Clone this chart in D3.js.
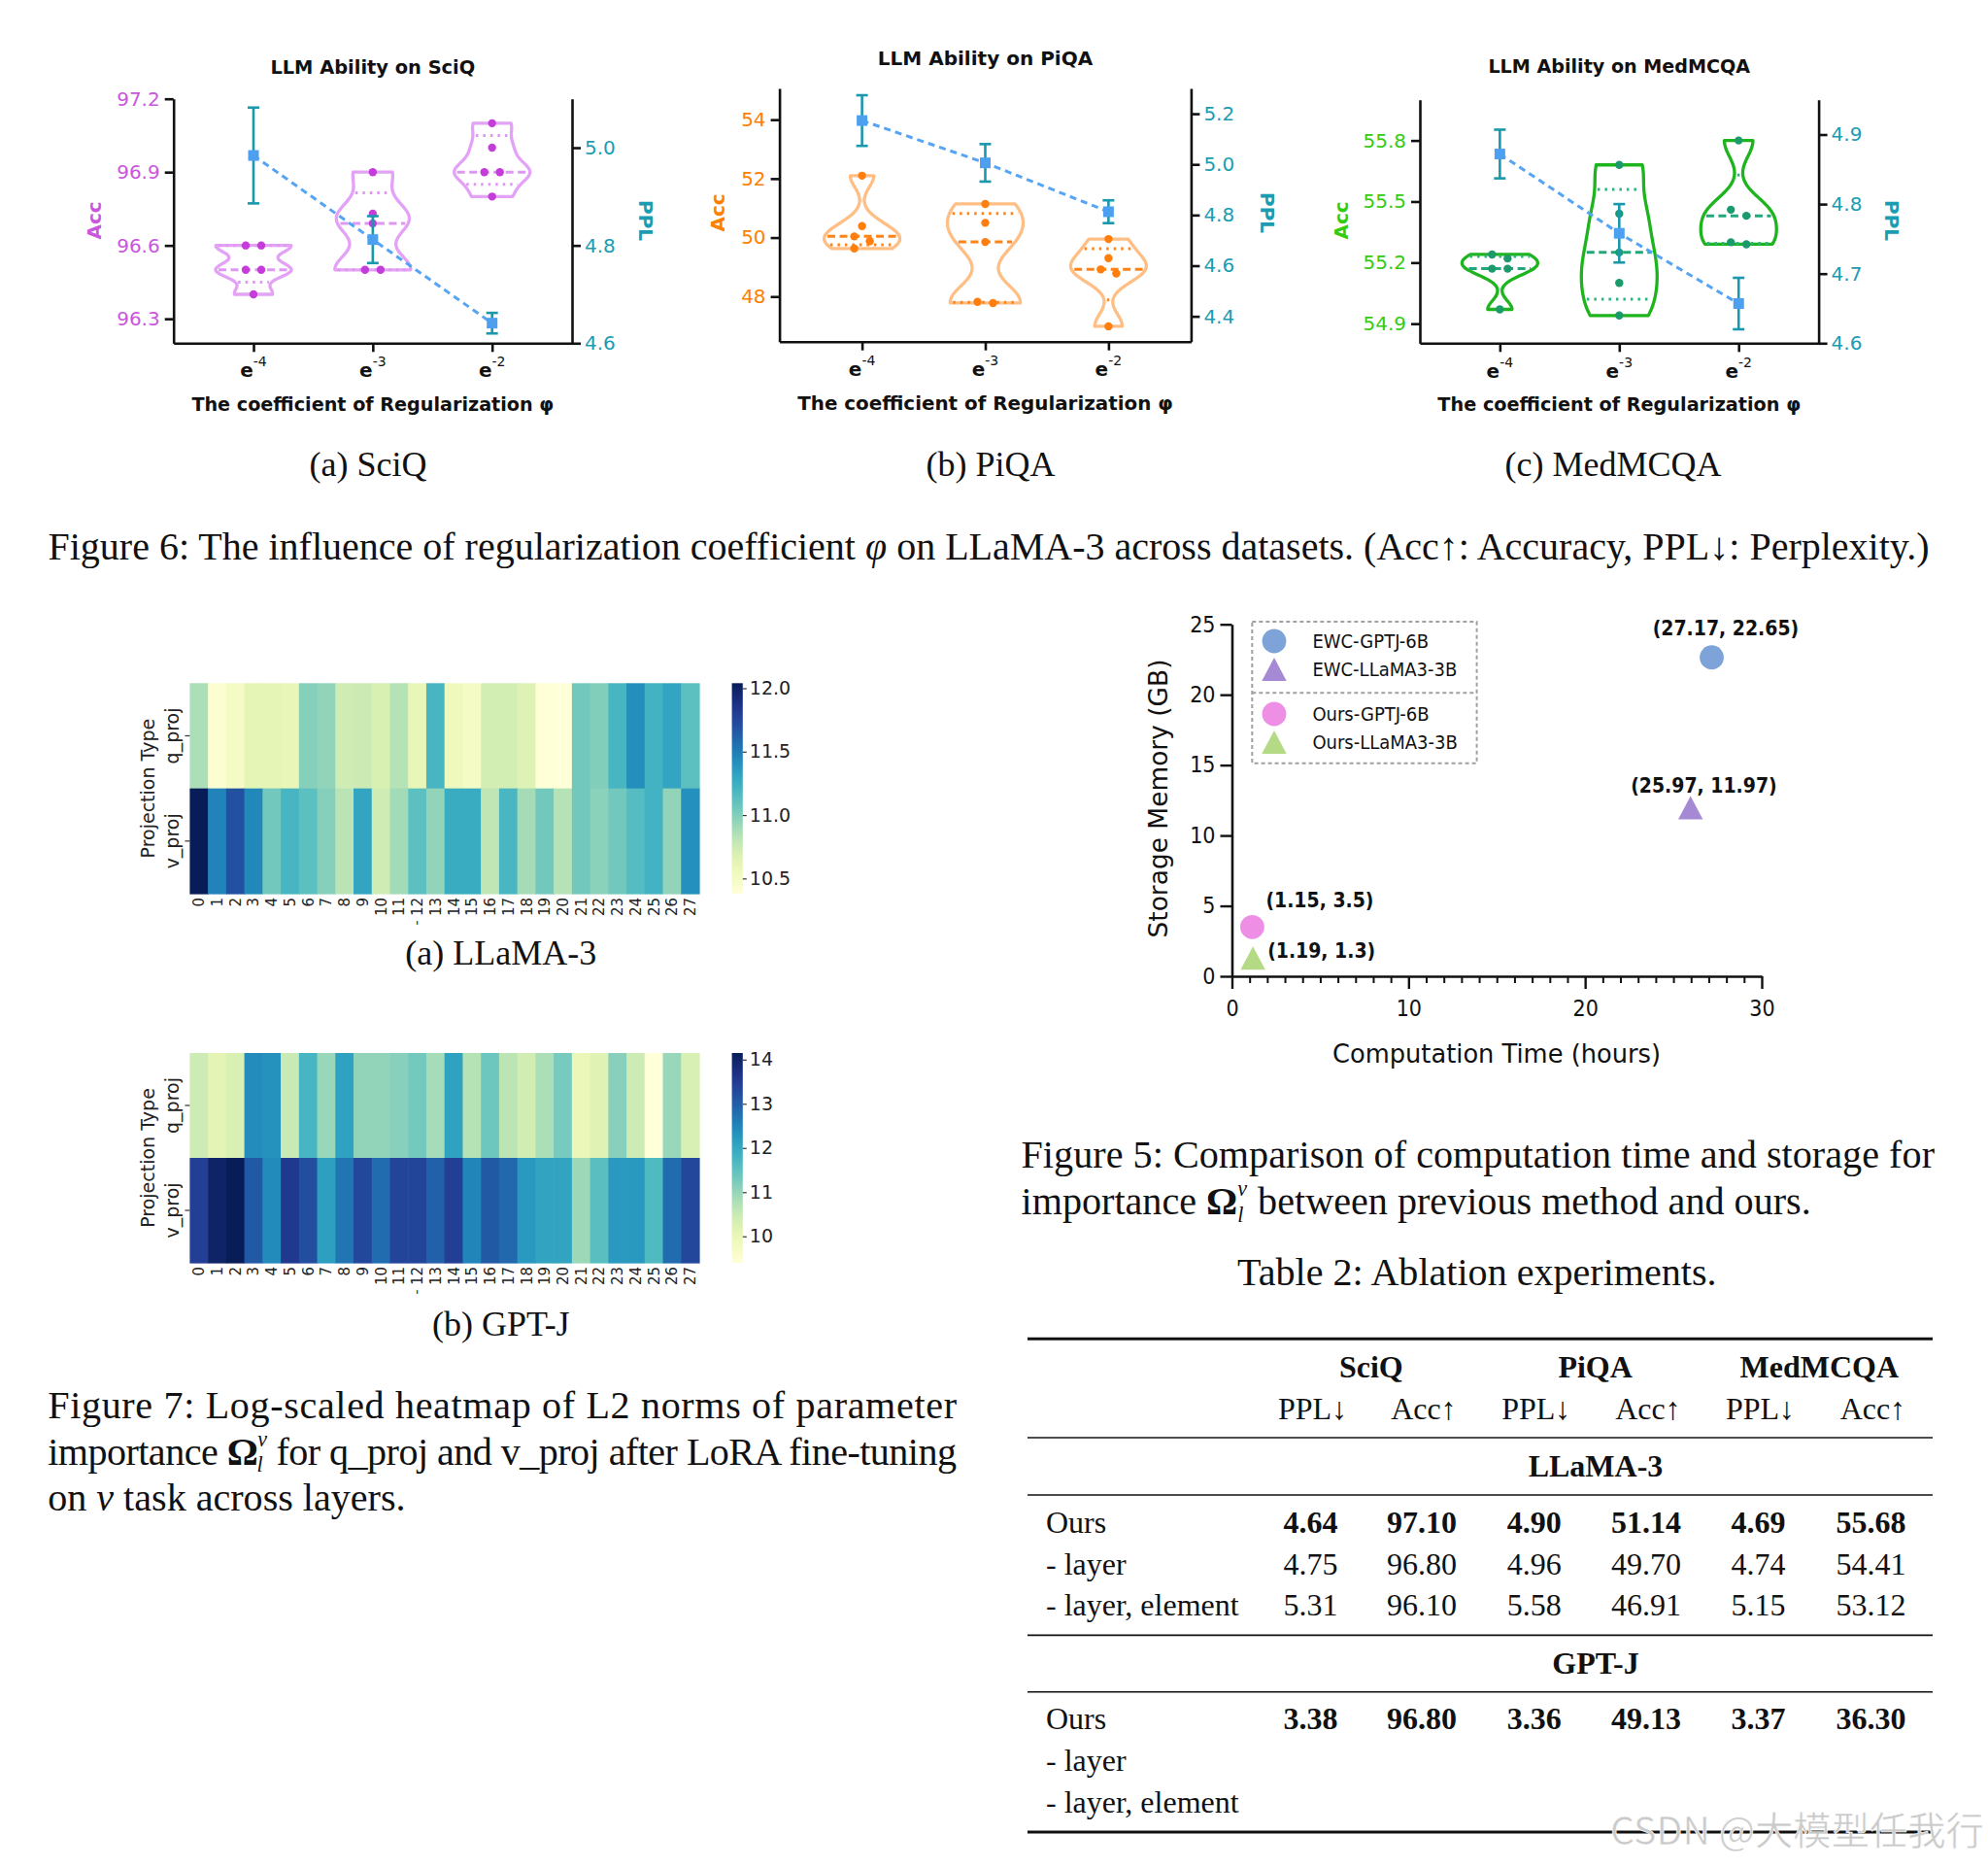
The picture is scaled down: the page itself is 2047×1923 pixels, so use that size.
<!DOCTYPE html>
<html>
<head>
<meta charset="utf-8">
<script src="https://cdn.jsdelivr.net/npm/d3@7"></script>
<style>
html,body{margin:0;padding:0;background:#fff;}
svg{display:block;}
text{white-space:pre;}
</style>
</head>
<body>
<svg id="page" width="2047" height="1923" xmlns="http://www.w3.org/2000/svg"></svg>
<script>
// ======================= DATA =======================
const phiExp = [-4, -3, -2];

const sciqAcc = [
  [96.4, 96.5, 96.5, 96.6, 96.6],
  [96.5, 96.5, 96.69, 96.73, 96.9],
  [96.8, 96.9, 96.9, 97.0, 97.1]
];
const sciqPPL = [4.984, 4.812, 4.641];
const sciqPPLErr = [0.098, 0.048, 0.021];
const sciqAccTicks = [96.3, 96.6, 96.9, 97.2];
const sciqPPLTicks = [4.6, 4.8, 5.0];

const piqaAcc = [
  [49.63, 49.88, 50.04, 50.39, 52.1],
  [47.78, 47.82, 49.85, 50.5, 51.14],
  [46.99, 48.78, 48.92, 49.30, 49.95]
];
const piqaPPL = [5.173, 5.006, 4.813];
const piqaPPLErr = [0.10, 0.074, 0.045];
const piqaAccTicks = [48, 50, 52, 54];
const piqaPPLTicks = [4.4, 4.6, 4.8, 5.0, 5.2];

const medAcc = [
  [54.97, 55.17, 55.17, 55.22, 55.24],
  [54.94, 55.10, 55.25, 55.44, 55.68],
  [55.29, 55.30, 55.43, 55.46, 55.80]
];
const medPPL = [4.872, 4.758, 4.657];
const medPPLErr = [0.035, 0.042, 0.037];
const medAccTicks = [54.9, 55.2, 55.5, 55.8];
const medPPLTicks = [4.6, 4.7, 4.8, 4.9];

// heatmaps
const layers = [0,1,2,3,4,5,6,7,8,9,10,11,12,13,14,15,16,17,18,19,20,21,22,23,24,25,26,27];
const projTypes = ["q_proj", "v_proj"];
const llamaQ = [10.87,10.42,10.49,10.62,10.62,10.60,10.99,10.95,10.74,10.75,10.69,10.84,10.60,11.20,
                10.54,10.49,10.72,10.72,10.67,10.39,10.38,11.05,11.00,11.20,11.42,11.22,11.30,11.12];
const llamaV = [12.04,11.47,11.69,11.45,11.05,11.20,11.12,10.99,10.82,11.30,10.74,10.90,11.12,10.95,
                11.26,11.26,10.80,11.19,10.89,11.05,10.84,11.05,10.97,11.05,11.15,11.22,10.95,11.41];
const llamaTicks = [10.5, 11.0, 11.5, 12.0];
const gptjQ = [10.45,10.12,10.30,12.40,12.33,10.50,11.75,10.98,12.10,11.03,11.03,11.12,11.30,10.85,
               12.10,10.70,11.35,10.65,10.40,10.80,11.27,9.97,10.17,11.12,10.45,9.40,10.98,10.30];
const gptjV = [13.43,14.00,14.15,13.05,12.42,13.53,13.20,12.13,12.70,13.30,12.80,13.35,13.35,12.95,
               13.43,12.50,13.05,12.85,12.23,12.05,12.05,10.93,11.55,12.23,12.23,11.65,12.80,13.30];
const gptjTicks = [10, 11, 12, 13, 14];

// scatter (Figure 5)
const scatterNames = ["EWC-GPTJ-6B", "EWC-LLaMA3-3B", "Ours-GPTJ-6B", "Ours-LLaMA3-3B"];
const scatterTime = [27.17, 25.97, 1.15, 1.19];
const scatterMem = [22.65, 11.97, 3.5, 1.3];
const scatterShape = ["circle", "triangle", "circle", "triangle"];
const scatterXTicks = [0, 10, 20, 30];
const scatterYTicks = [0, 5, 10, 15, 20, 25];

// table
const tableDatasets = ["SciQ", "PiQA", "MedMCQA"];
const tableMetrics = ["PPL↓", "Acc↑"];
const tableRowNames = ["Ours", "- layer", "- layer, element"];
const llamaTable = [
  [4.64, 97.10, 4.90, 51.14, 4.69, 55.68],
  [4.75, 96.80, 4.96, 49.70, 4.74, 54.41],
  [5.31, 96.10, 5.58, 46.91, 5.15, 53.12]
];
const gptjTable = [
  [3.38, 96.80, 3.36, 49.13, 3.37, 36.30],
  [],
  []
];

// ======================= DRAWING =======================
const svg = d3.select('#page');
svg.append('rect').attr('width', 2047).attr('height', 1923).attr('fill', '#fff');
const SANS = "'DejaVu Sans', Verdana, sans-serif";
const COND = "'DejaVu Sans Condensed', 'DejaVu Sans', sans-serif";
const SERIF = "'Liberation Serif', 'Times New Roman', serif";

function fit(sel, w) {
  const L = sel.node().getComputedTextLength();
  const fs = parseFloat(sel.attr('font-size'));
  sel.attr('font-size', (fs * w / L).toFixed(2));
  return sel;
}

function violinPanel(o) {
  const g = svg.append('g');
  const x = d3.scalePoint().domain(phiExp).range([o.left, o.right]).padding(0.67);
  const y = d3.scaleLinear().domain(o.accDomain).range([o.bottom, o.top]);
  const y2 = d3.scaleLinear().domain(o.pplDomain).range([o.bottom, o.top]);
  const halfW = 39, dotR = 4.2, dotDX = 8;

  o.acc.forEach((vals, i) => {
    const cx = x(phiExp[i]);
    const s = vals.slice().sort(d3.ascending);
    const bw = 0.4 * d3.deviation(s);
    const kde = v => d3.sum(s, p => Math.exp(-0.5 * ((v - p) / bw) ** 2));
    const lo = s[0], hi = s[s.length - 1];
    const grid = d3.range(81).map(k => lo + (hi - lo) * k / 80);
    const dmax = d3.max(grid, kde);
    const w = v => halfW * kde(v) / dmax;
    const area = d3.area().curve(d3.curveBasis)
      .y(v => y(v)).x0(v => cx - w(v)).x1(v => cx + w(v));
    g.append('path').attr('d', area(grid)).attr('fill', 'none')
      .attr('stroke', o.violin).attr('stroke-width', 3.3).attr('stroke-linejoin', 'round');

    const n = s.length;
    const med = d3.median(s);
    const q1 = d3.median(s.slice(0, Math.floor(n / 2)));
    const q3 = d3.median(s.slice(Math.ceil(n / 2)));
    [[q1, o.quart, '2.5,5'], [q3, o.quart, '2.5,5'], [med, o.med, '8,4.5']].forEach(([v, c, da]) => {
      const hw = Math.max(0, w(v) - 3);
      g.append('line').attr('x1', cx - hw).attr('x2', cx + hw).attr('y1', y(v)).attr('y2', y(v))
        .attr('stroke', c).attr('stroke-width', 3).attr('stroke-dasharray', da);
    });

    // dots, spread horizontally when overlapping
    const desc = s.slice().sort(d3.descending);
    const groups = [];
    let cur = [];
    desc.forEach(v => {
      if (cur.length && Math.abs(y(v) - y(cur[cur.length - 1])) >= 9) { groups.push(cur); cur = []; }
      cur.push(v);
    });
    groups.push(cur);
    groups.forEach(gr => gr.forEach((v, k) => {
      const dx = gr.length === 1 ? 0 : (k % 2 === 0 ? -dotDX : dotDX);
      g.append('circle').attr('cx', cx + dx).attr('cy', y(v)).attr('r', dotR).attr('fill', o.dot);
    }));
  });

  // PPL series
  const line = d3.line().x((d, i) => x(phiExp[i])).y(d => y2(d));
  g.append('path').attr('d', line(o.ppl)).attr('fill', 'none').attr('stroke', '#56A4F3')
    .attr('stroke-width', 3).attr('stroke-dasharray', '7,5');
  o.ppl.forEach((m, i) => {
    const cx = x(phiExp[i]), e = o.pplErr[i];
    const eg = g.append('g').attr('stroke', '#1A98AC').attr('stroke-width', 2.6);
    eg.append('line').attr('x1', cx).attr('x2', cx).attr('y1', y2(m - e)).attr('y2', y2(m + e));
    eg.append('line').attr('x1', cx - 6).attr('x2', cx + 6).attr('y1', y2(m - e)).attr('y2', y2(m - e));
    eg.append('line').attr('x1', cx - 6).attr('x2', cx + 6).attr('y1', y2(m + e)).attr('y2', y2(m + e));
    g.append('rect').attr('x', cx - 5.5).attr('y', y2(m) - 5.5).attr('width', 11).attr('height', 11)
      .attr('fill', '#4DA0F0');
  });

  // axes
  const styleAxis = (sel, color) => {
    sel.attr('font-family', SANS).attr('font-size', 20);
    sel.select('.domain').attr('stroke', '#111').attr('stroke-width', 2.6);
    sel.selectAll('.tick line').attr('stroke', '#111').attr('stroke-width', 2.6);
    sel.selectAll('.tick text').attr('fill', color).attr('font-family', SANS).attr('font-size', 20);
  };
  const gl = g.append('g').attr('transform', `translate(${o.left},0)`)
    .call(d3.axisLeft(y).tickValues(o.accTicks).tickFormat(d3.format(o.accFmt))
      .tickSize(9).tickSizeOuter(0).tickPadding(5));
  styleAxis(gl, o.accColor);
  const gr = g.append('g').attr('transform', `translate(${o.right},0)`)
    .call(d3.axisRight(y2).tickValues(o.pplTicks).tickFormat(d3.format('.1f'))
      .tickSize(9).tickSizeOuter(0).tickPadding(4));
  styleAxis(gr, '#1A9DB2');
  const gb = g.append('g').attr('transform', `translate(0,${o.bottom})`)
    .call(d3.axisBottom(x).tickSize(9).tickSizeOuter(0).tickFormat(''));
  styleAxis(gb, '#000');

  phiExp.forEach(p => {
    const t = g.append('text').attr('x', x(p)).attr('y', o.eBase).attr('text-anchor', 'middle')
      .attr('font-family', SANS).attr('font-weight', 'bold').attr('font-size', 20).attr('fill', '#111');
    t.append('tspan').text('e');
    t.append('tspan').text(String(p)).attr('font-size', 14).attr('font-weight', 'normal').attr('dy', -11);
  });

  fit(g.append('text').attr('x', x(-3)).attr('y', o.titleY).attr('text-anchor', 'middle')
    .attr('font-family', SANS).attr('font-weight', 'bold').attr('font-size', 18).attr('fill', '#111')
    .text(o.title), o.titleW);
  fit(g.append('text').attr('x', x(-3)).attr('y', o.xtitleY).attr('text-anchor', 'middle')
    .attr('font-family', SANS).attr('font-weight', 'bold').attr('font-size', 18).attr('fill', '#111')
    .text('The coefficient of Regularization φ'), o.xtitleW);
  g.append('text').attr('transform', `translate(${o.accLabelX},${o.labelY}) rotate(-90)`)
    .attr('text-anchor', 'middle').attr('fill', o.accColor).attr('font-family', SANS)
    .attr('font-weight', 'bold').attr('font-size', 20).text('Acc');
  g.append('text').attr('transform', `translate(${o.pplLabelX},${o.labelY}) rotate(90)`)
    .attr('text-anchor', 'middle').attr('fill', '#1A9DB2').attr('font-family', SANS)
    .attr('font-weight', 'bold').attr('font-size', 20).text('PPL');
  g.append('text').attr('x', o.subX).attr('y', 490).attr('text-anchor', 'middle')
    .attr('font-family', SERIF).attr('font-size', 36).attr('fill', '#111').text(o.sub);
}

violinPanel({
  acc: sciqAcc, ppl: sciqPPL, pplErr: sciqPPLErr, accTicks: sciqAccTicks, pplTicks: sciqPPLTicks,
  accFmt: '.1f', left: 178.7, right: 589, top: 101.7, bottom: 353.3,
  accDomain: [96.2, 97.2], pplDomain: [4.6, 5.1],
  title: 'LLM Ability on SciQ', titleY: 76, titleW: 211, xtitleY: 422.5, xtitleW: 373, eBase: 388,
  accLabelX: 104, pplLabelX: 658, labelY: 227, sub: '(a) SciQ', subX: 379,
  accColor: '#C957DD', violin: '#E3A2F5', dot: '#C53CDB', med: '#DE98F2', quart: '#DE98F2'
});
violinPanel({
  acc: piqaAcc, ppl: piqaPPL, pplErr: piqaPPLErr, accTicks: piqaAccTicks, pplTicks: piqaPPLTicks,
  accFmt: 'd', left: 802.6, right: 1226.4, top: 91, bottom: 351.7,
  accDomain: [46.47, 55.06], pplDomain: [4.3, 5.3],
  title: 'LLM Ability on PiQA', titleY: 66.7, titleW: 221.5, xtitleY: 421.7, xtitleW: 387, eBase: 387,
  accLabelX: 746, pplLabelX: 1298, labelY: 219, sub: '(b) PiQA', subX: 1020,
  accColor: '#FF8000', violin: '#FFBE84', dot: '#FF7F0E', med: '#FF8418', quart: '#FF8418'
});
violinPanel({
  acc: medAcc, ppl: medPPL, pplErr: medPPLErr, accTicks: medAccTicks, pplTicks: medPPLTicks,
  accFmt: '.1f', left: 1462, right: 1872.6, top: 102.7, bottom: 353.3,
  accDomain: [54.804, 56.0], pplDomain: [4.6, 4.95],
  title: 'LLM Ability on MedMCQA', titleY: 75, titleW: 270, xtitleY: 422.7, xtitleW: 374, eBase: 389,
  accLabelX: 1388, pplLabelX: 1941, labelY: 227, sub: '(c) MedMCQA', subX: 1661,
  accColor: '#33CC11', violin: '#1EB41E', dot: '#1B9B6B', med: '#22A67C', quart: '#2DB580'
});

// ---------- heatmaps ----------
function heatmap(o) {
  const g = svg.append('g');
  const x = d3.scaleBand().domain(layers).range([o.left, o.right]);
  const y = d3.scaleBand().domain(projTypes).range([o.top, o.bottom]);
  const color = d3.scaleSequential(d3.interpolateYlGnBu).domain([d3.min(o.q.concat(o.v)), d3.max(o.q.concat(o.v))]);
  [o.q, o.v].forEach((row, r) => {
    row.forEach((val, c) => {
      g.append('rect').attr('x', x(layers[c])).attr('y', y(projTypes[r]))
        .attr('width', x.bandwidth() + 0.6).attr('height', y.bandwidth() + 0.6)
        .attr('fill', color(val));
    });
  });
  // x labels
  layers.forEach(l => {
    g.append('text').attr('transform', `translate(${x(l) + x.bandwidth() / 2 + 5.5},${o.bottom + 4}) rotate(-90)`)
      .attr('text-anchor', 'end').attr('font-family', SANS).attr('font-size', 15).attr('fill', '#222').text(l);
  });
  g.append('text').attr('transform', `translate(${x(12) + x.bandwidth() / 2 + 4},${o.bottom + 30}) rotate(-90)`)
    .attr('text-anchor', 'middle').attr('font-family', SANS).attr('font-size', 14).attr('fill', '#222').text('-');
  // y labels
  projTypes.forEach(p => {
    const cy = y(p) + y.bandwidth() / 2;
    g.append('line').attr('x1', o.left - 5).attr('x2', o.left).attr('y1', cy).attr('y2', cy)
      .attr('stroke', '#333').attr('stroke-width', 1.2);
    g.append('text').attr('transform', `translate(183.5,${cy}) rotate(-90)`).attr('text-anchor', 'middle')
      .attr('font-family', SANS).attr('font-size', 19).attr('fill', '#222').text(p);
  });
  g.append('text').attr('transform', `translate(158.5,${(o.top + o.bottom) / 2}) rotate(-90)`)
    .attr('text-anchor', 'middle').attr('font-family', SANS).attr('font-size', 19).attr('fill', '#222')
    .text('Projection Type');
  // colorbar
  const gid = 'grad' + o.id;
  const grad = svg.append('defs').append('linearGradient').attr('id', gid)
    .attr('x1', 0).attr('y1', 1).attr('x2', 0).attr('y2', 0);
  d3.range(0, 1.0001, 0.05).forEach(t => {
    grad.append('stop').attr('offset', t).attr('stop-color', d3.interpolateYlGnBu(t));
  });
  const cbx = 753.6, cbw = 11.2;
  g.append('rect').attr('x', cbx).attr('y', o.top).attr('width', cbw).attr('height', o.bottom - o.top)
    .attr('fill', `url(#${gid})`);
  const cy = d3.scaleLinear().domain(color.domain()).range([o.bottom, o.top]);
  const ca = g.append('g').attr('transform', `translate(${cbx + cbw},0)`)
    .call(d3.axisRight(cy).tickValues(o.ticks).tickFormat(d3.format(o.fmt)).tickSize(4).tickPadding(3));
  ca.select('.domain').remove();
  ca.selectAll('.tick line').attr('stroke', '#333').attr('stroke-width', 1.2);
  ca.selectAll('.tick text').attr('font-family', SANS).attr('font-size', 19).attr('fill', '#222');
  g.append('text').attr('x', 515.8).attr('y', o.subY).attr('text-anchor', 'middle')
    .attr('font-family', SERIF).attr('font-size', 36).attr('fill', '#111').text(o.sub);
}
heatmap({ id: 'a', q: llamaQ, v: llamaV, left: 195.4, right: 720, top: 703.3, bottom: 920,
  ticks: llamaTicks, fmt: '.1f', sub: '(a) LLaMA-3', subY: 993 });
heatmap({ id: 'b', q: gptjQ, v: gptjV, left: 195.4, right: 720, top: 1084, bottom: 1300,
  ticks: gptjTicks, fmt: 'd', sub: '(b) GPT-J', subY: 1375 });

// ---------- scatter ----------
(function () {
  const g = svg.append('g');
  const xs = d3.scaleLinear().domain([0, 30]).range([1268.5, 1814]);
  const ys = d3.scaleLinear().domain([0, 25]).range([1005, 642.7]);
  const colors = ['#7DA3D8', '#A589D5', '#EE8FE5', '#B5DA86'];
  const triPath = 'M0,-12L12.7,12L-12.7,12Z';
  const marker = (sel, shape, color) => {
    if (shape === 'circle') sel.append('circle').attr('r', 12.4).attr('fill', color);
    else sel.append('path').attr('d', triPath).attr('fill', color);
  };
  const minor = g.append('g').attr('transform', 'translate(0,1005)')
    .call(d3.axisBottom(xs).tickValues(d3.range(1, 30).filter(v => v % 10)).tickSize(7).tickFormat('').tickSizeOuter(0));
  minor.select('.domain').remove();
  minor.selectAll('.tick line').attr('stroke', '#111').attr('stroke-width', 2);
  const ax = g.append('g').attr('transform', 'translate(0,1005)')
    .call(d3.axisBottom(xs).tickValues(scatterXTicks).tickSize(13).tickSizeOuter(0).tickPadding(6));
  const ay = g.append('g').attr('transform', 'translate(1268.5,0)')
    .call(d3.axisLeft(ys).tickValues(scatterYTicks).tickSize(12).tickSizeOuter(0).tickPadding(5));
  [ax, ay].forEach(a => {
    a.select('.domain').attr('stroke', '#111').attr('stroke-width', 2.6);
    a.selectAll('.tick line').attr('stroke', '#111').attr('stroke-width', 2.4);
    a.selectAll('.tick text').attr('font-family', COND).attr('font-size', 23).attr('fill', '#111');
  });
  ax.selectAll('.tick text').attr('dy', '0.95em');

  // points and labels
  const labelOff = [[14.4, -23, 'middle'], [13.7, -16, 'middle'], [14, -20, 'start'], [15, 0, 'start']];
  scatterNames.forEach((nm, i) => {
    const px = xs(scatterTime[i]), py = ys(scatterMem[i]);
    marker(g.append('g').attr('transform', `translate(${px},${py})`), scatterShape[i], colors[i]);
    const [dx, dy, anc] = labelOff[i];
    g.append('text').attr('x', px + dx).attr('y', py + dy).attr('text-anchor', anc)
      .attr('font-family', COND).attr('font-weight', 'bold').attr('font-size', 21).attr('fill', '#111')
      .text(`(${scatterTime[i]}, ${scatterMem[i]})`);
  });

  // legend
  const lg = g.append('g');
  lg.append('rect').attr('x', 1289.3).attr('y', 640).attr('width', 231.3).attr('height', 145.7)
    .attr('fill', 'none').attr('stroke', '#A0A0A0').attr('stroke-width', 2).attr('stroke-dasharray', '4,3');
  lg.append('line').attr('x1', 1289.3).attr('x2', 1520.6).attr('y1', 713.3).attr('y2', 713.3)
    .attr('stroke', '#A0A0A0').attr('stroke-width', 2).attr('stroke-dasharray', '4,3');
  const ly = [660, 689, 735, 764];
  scatterNames.forEach((nm, i) => {
    marker(lg.append('g').attr('transform', `translate(1312,${ly[i]})`), scatterShape[i], colors[i]);
    lg.append('text').attr('x', 1351.4).attr('y', ly[i] + 7).attr('font-family', COND)
      .attr('font-size', 20).attr('fill', '#111').text(nm);
  });

  fit(g.append('text').attr('x', 1541).attr('y', 1094).attr('text-anchor', 'middle')
    .attr('font-family', SANS).attr('font-size', 24).attr('fill', '#111').text('Computation Time (hours)'), 338);
  fit(g.append('text').attr('transform', 'translate(1202,822) rotate(-90)').attr('text-anchor', 'middle')
    .attr('font-family', SANS).attr('font-size', 24).attr('fill', '#111').text('Storage Memory (GB)'), 287);
})();

// ---------- captions ----------
// Ω with stacked superscript ν and subscript l; returns the shift that restores the baseline
function omega(t) {
  t.append('tspan').text('Ω').attr('font-weight', 'bold');
  t.append('tspan').text('ν').attr('font-style', 'italic').attr('font-size', '0.55em').attr('dy', '-0.85em');
  t.append('tspan').text('l').attr('font-style', 'italic').attr('font-size', '0.55em')
    .attr('dx', '-0.45em').attr('dy', '1.2em');
  return { dy: '-0.1925em', dx: '0.12em' };
}
// Figure 6
(function () {
  const t = svg.append('text').attr('x', 1018).attr('y', 576).attr('text-anchor', 'middle')
    .attr('font-family', SERIF).attr('font-size', 38).attr('fill', '#111');
  t.append('tspan').text('Figure 6: The influence of regularization coefficient ');
  t.append('tspan').text('φ').attr('font-style', 'italic');
  t.append('tspan').text(' on LLaMA-3 across datasets. (Acc↑: Accuracy, PPL↓: Perplexity.)');
  fit(t, 1937);
})();
// Figure 7
(function () {
  const l3 = svg.append('text').attr('x', 49.2).attr('y', 1555).attr('font-family', SERIF)
    .attr('font-size', 38).attr('fill', '#111');
  l3.append('tspan').text('on ');
  l3.append('tspan').text('ν').attr('font-style', 'italic');
  l3.append('tspan').text(' task across layers.');
  fit(l3, 368.6);
  const fs = l3.attr('font-size');
  svg.append('text').attr('x', 49.2).attr('y', 1460).attr('font-family', SERIF).attr('font-size', fs)
    .attr('fill', '#111').attr('textLength', 935.8).attr('lengthAdjust', 'spacing')
    .text('Figure 7: Log-scaled heatmap of L2 norms of parameter');
  const l2 = svg.append('text').attr('x', 49.2).attr('y', 1507.5).attr('font-family', SERIF)
    .attr('font-size', fs).attr('fill', '#111');
  l2.append('tspan').text('importance ');
  const r = omega(l2);
  l2.append('tspan').text(' for q_proj and v_proj after LoRA fine-tuning').attr('dy', r.dy).attr('dx', r.dx);
  l2.attr('textLength', 935.8).attr('lengthAdjust', 'spacing');
})();
// Figure 5 + Table 2 caption
(function () {
  const l2 = svg.append('text').attr('x', 1051.5).attr('y', 1250).attr('font-family', SERIF)
    .attr('font-size', 38).attr('fill', '#111');
  l2.append('tspan').text('importance ');
  const r = omega(l2);
  l2.append('tspan').text(' between previous method and ours.').attr('dy', r.dy).attr('dx', r.dx);
  fit(l2, 818.5);
  const fs = l2.attr('font-size');
  svg.append('text').attr('x', 1051.5).attr('y', 1201.7).attr('font-family', SERIF).attr('font-size', fs)
    .attr('fill', '#111').attr('textLength', 940.5).attr('lengthAdjust', 'spacing')
    .text('Figure 5: Comparison of computation time and storage for');
  fit(svg.append('text').attr('x', 1520.8).attr('y', 1323.3).attr('text-anchor', 'middle')
    .attr('font-family', SERIF).attr('font-size', 38).attr('fill', '#111').text('Table 2: Ablation experiments.'), 493.6);
})();

// ---------- table ----------
(function () {
  const g = svg.append('g').attr('font-family', SERIF).attr('fill', '#111');
  const colX = [1349.6, 1464, 1579.7, 1695, 1810.5, 1926.5];
  const dsX = [1411.8, 1642.6, 1873.3];
  const rule = (y, w) => g.append('line').attr('x1', 1058).attr('x2', 1990).attr('y1', y).attr('y2', y)
    .attr('stroke', '#111').attr('stroke-width', w);
  rule(1378.3, 3); rule(1480, 1.6); rule(1539, 1.6); rule(1683.3, 1.8); rule(1741.7, 1.6); rule(1886, 3);
  const FS = 32;
  tableDatasets.forEach((d, i) => g.append('text').attr('x', dsX[i]).attr('y', 1418.3)
    .attr('text-anchor', 'middle').attr('font-weight', 'bold').attr('font-size', FS).text(d));
  colX.forEach((cx, i) => g.append('text').attr('x', cx + 2).attr('y', 1460.7).attr('text-anchor', 'middle')
    .attr('font-size', FS).text(tableMetrics[i % 2]));
  const section = (name, nameY, rows, ys) => {
    g.append('text').attr('x', 1643).attr('y', nameY).attr('text-anchor', 'middle')
      .attr('font-weight', 'bold').attr('font-size', FS).text(name);
    tableRowNames.forEach((rn, r) => {
      g.append('text').attr('x', 1077).attr('y', ys[r]).attr('font-size', FS).text(rn);
      rows[r].forEach((v, c) => g.append('text').attr('x', colX[c]).attr('y', ys[r])
        .attr('text-anchor', 'middle').attr('font-size', FS).attr('font-weight', r === 0 ? 'bold' : 'normal')
        .text(d3.format('.2f')(v)));
    });
  };
  section('LLaMA-3', 1520, llamaTable, [1578.3, 1620.7, 1663.3]);
  section('GPT-J', 1723.3, gptjTable, [1780, 1823.3, 1865.7]);
})();

// watermark
fit(svg.append('text').attr('x', 1658).attr('y', 1899).attr('font-family', "'Noto Sans CJK SC', sans-serif")
  .attr('font-size', 34).attr('fill', '#CACACA').attr('stroke', '#FFFFFF').attr('stroke-width', 0.6)
  .text('CSDN @大模型任我行'), 385);
</script>
</body>
</html>
